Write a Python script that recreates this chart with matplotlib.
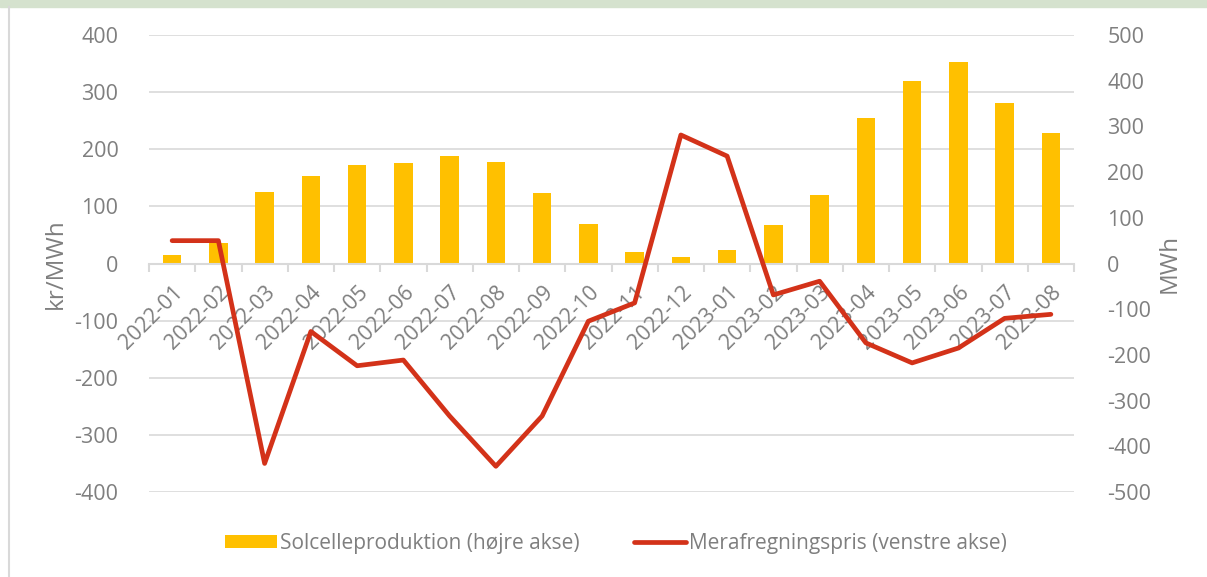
import matplotlib
matplotlib.use("Agg")
import matplotlib.pyplot as plt
from matplotlib.patches import Rectangle
from matplotlib.lines import Line2D
from matplotlib.transforms import blended_transform_factory

plt.rcParams['font.family'] = ['Open Sans', 'DejaVu Sans']
plt.rcParams['axes.unicode_minus'] = False

months = ["2022-01", "2022-02", "2022-03", "2022-04", "2022-05", "2022-06", "2022-07",
          "2022-08", "2022-09", "2022-10", "2022-11", "2022-12", "2023-01", "2023-02",
          "2023-03", "2023-04", "2023-05", "2023-06", "2023-07", "2023-08"]
# MWh (right axis)
solar = [19, 45, 156, 191, 215, 219, 235, 223, 154, 86, 25, 14, 30, 84, 150, 318, 399, 442, 351, 285]
# kr/MWh (left axis)
price = [40, 40, -350, -119, -179, -169, -267, -355, -267, -101, -69, 225, 188, -55, -31, -139, -174, -148, -96, -89]

grey_txt = "#7F7F7F"
grid_c = "#D9D9D9"
bar_c = "#FFC000"
line_c = "#D33219"

fig = plt.figure(figsize=(12.07, 5.77), dpi=100)
W, H = 1207, 577
ax = fig.add_axes([149 / W, 1 - 492 / H, 925 / W, 457 / H])
ax2 = ax.twinx()

# frame decorations
fig.patches.append(Rectangle((0, 1 - 7 / H), 1, 7 / H, transform=fig.transFigure,
                             color="#D5E2CE", zorder=0))
fig.lines.append(Line2D([9 / W, 9 / W], [0, 1 - 7 / H], transform=fig.transFigure,
                        color=grid_c, lw=1.5))

x = list(range(len(months)))

# bars on the right axis, behind
ax2.bar(x, solar, width=0.4, color=bar_c, zorder=2, label="Solcelleproduktion (højre akse)")
ax2.set_ylim(-500, 500)
ax2.set_yticks(range(-500, 501, 100))

# gridlines of the left scale, drawn behind bars
left_ticks = list(range(-400, 401, 100))
trans = blended_transform_factory(ax2.transAxes, ax.transData)
for v in left_ticks:
    ax2.plot([0, 1], [v, v], transform=trans, color=grid_c, lw=1.2, zorder=1)

# line on left axis, on top
ax.set_zorder(ax2.get_zorder() + 1)
ax.patch.set_visible(False)
ax.plot(x, price, color=line_c, lw=3.4, solid_capstyle="round", solid_joinstyle="round",
        zorder=3, label="Merafregningspris (venstre akse)")
ax.set_ylim(-400, 400)
ax.set_yticks(left_ticks)
ax.set_xlim(-0.5, len(months) - 0.5)

for a in (ax, ax2):
    for s in ("top", "left", "right", "bottom"):
        a.spines[s].set_visible(False)
    a.tick_params(axis="y", length=0, labelsize=15.5, colors=grey_txt)
ax.tick_params(axis="y", pad=22)
ax2.tick_params(axis="y", pad=24)

# category axis at zero
ax.spines["bottom"].set_visible(True)
ax.spines["bottom"].set_position(("data", 0))
ax.spines["bottom"].set_color(grid_c)
ax.spines["bottom"].set_linewidth(1.5)
ax.set_xticks(x)
ax.set_xticklabels(months, rotation=45, ha="right", rotation_mode="anchor")
ax.set_xticks([i - 0.5 for i in range(len(months) + 1)], minor=True)
ax.tick_params(axis="x", which="major", length=0, pad=13, labelsize=15.5, colors=grey_txt)
ax.tick_params(axis="x", which="minor", length=6, width=1.5, color=grid_c)

ax.set_ylabel("kr/MWh", fontsize=17.5, color=grey_txt)
ax.yaxis.set_label_coords(-81 / 925, 0.5)
ax2.set_ylabel("MWh", fontsize=17.5, color=grey_txt)
ax2.yaxis.set_label_coords(1 + 84 / 925, 0.5)

h1, l1 = ax2.get_legend_handles_labels()
h2, l2 = ax.get_legend_handles_labels()
fig.legend(h1 + h2, l1 + l2, loc="center", bbox_to_anchor=(616 / W, 1 - 543 / H), ncol=2,
           frameon=False, fontsize=15, labelcolor=grey_txt, handlelength=2.5,
           handleheight=0.6, handletextpad=0.15, columnspacing=2.6)

fig.savefig("out.png", dpi=100)
